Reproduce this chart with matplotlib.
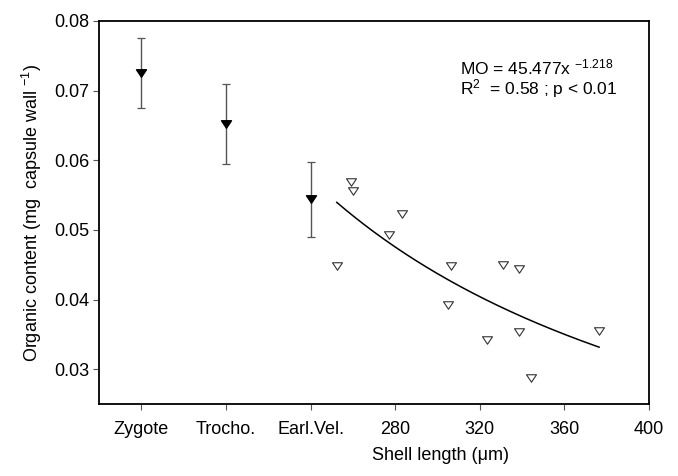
import numpy as np
import matplotlib
matplotlib.use("Agg")
import matplotlib.pyplot as plt
from matplotlib.path import Path

plt.rcParams['font.family'] = ['Liberation Sans', 'DejaVu Sans']
plt.rcParams['mathtext.fontset'] = 'custom'
plt.rcParams['mathtext.rm'] = 'Liberation Sans'
plt.rcParams['mathtext.it'] = 'Liberation Sans:italic'

# developmental stages (mean +/- error), placed on the shell-length axis
stage_x = [160, 200, 240]
stage_mean = [0.0725, 0.0652, 0.0544]
stage_err = [0.0050, 0.0057, 0.0054]

# veliger capsules: shell length vs organic content
shell_length = [259.1, 260.2, 283.4, 277.0, 252.4, 306.3, 330.9, 338.6,
                305.0, 338.6, 323.6, 344.1, 376.4]
organic = [0.0569, 0.0556, 0.0523, 0.0493, 0.0448, 0.0448, 0.0449, 0.0444,
           0.0392, 0.0354, 0.0342, 0.0288, 0.0355]

# power fit MO = a * x^b
fit_a = 45.477
fit_b = -1.218

xticks = [160, 200, 240, 280, 320, 360, 400]
xtick_labels = ['Zygote', 'Trocho.', 'Earl.Vel.', '280', '320', '360', '400']
yticks = [0.03, 0.04, 0.05, 0.06, 0.07, 0.08]

# wide, flat down-pointing triangle like the original software draws
tri = Path([(-1.0, 0.75), (1.0, 0.75), (0.0, -0.75), (-1.0, 0.75)],
           [Path.MOVETO, Path.LINETO, Path.LINETO, Path.CLOSEPOLY])

fig = plt.figure(figsize=(6.78, 4.76), dpi=100)
ax = fig.add_axes([99 / 678, 1 - 404 / 476, 550 / 678, 383 / 476])

ax.errorbar(stage_x, stage_mean, yerr=stage_err, fmt='none',
            ecolor='#555555', elinewidth=1.0, capsize=3.2, capthick=0.9, zorder=2)
ax.plot(stage_x, stage_mean, linestyle='none', marker=tri, markersize=7.2,
        markerfacecolor='black', markeredgecolor='black', zorder=3)

xs = np.linspace(min(shell_length), max(shell_length), 200)
ax.plot(xs, fit_a * xs ** fit_b, color='black', linewidth=1.1, zorder=2)

ax.plot(shell_length, organic, linestyle='none', marker=tri, markersize=7.2,
        markerfacecolor='white', markeredgecolor='#333333',
        markeredgewidth=0.8, zorder=3)

ax.set_xlim(140, 400)
ax.set_ylim(0.025, 0.08)
ax.set_xticks(xticks)
ax.set_xticklabels(xtick_labels)
ax.set_yticks(yticks)
ax.set_yticklabels([f'{v:.2f}' for v in yticks])
ax.tick_params(direction='out', length=4, width=0.8, color='#555555',
               labelsize=13)
ax.tick_params(axis='x', pad=8)
ax.tick_params(axis='y', pad=3)

for sp in ax.spines.values():
    sp.set_linewidth(1.3)

ax.set_ylabel('Organic content (mg  capsule wall $^{-1}$)', fontsize=13)
ax.yaxis.set_label_coords(-0.1, 0.5)
ax.set_xlabel('Shell length (\u03bcm)', fontsize=13)
ax.xaxis.set_label_coords((440 - 99) / 550, -0.113)

ax.text(0.657, 0.905, 'MO = 45.477x $^{\\mathrm{-1.218}}$\nR$^{2}$  = 0.58 ; p < 0.01',
        transform=ax.transAxes, fontsize=12.5, va='top', ha='left',
        linespacing=1.0)

fig.savefig('out.png', dpi=100)
